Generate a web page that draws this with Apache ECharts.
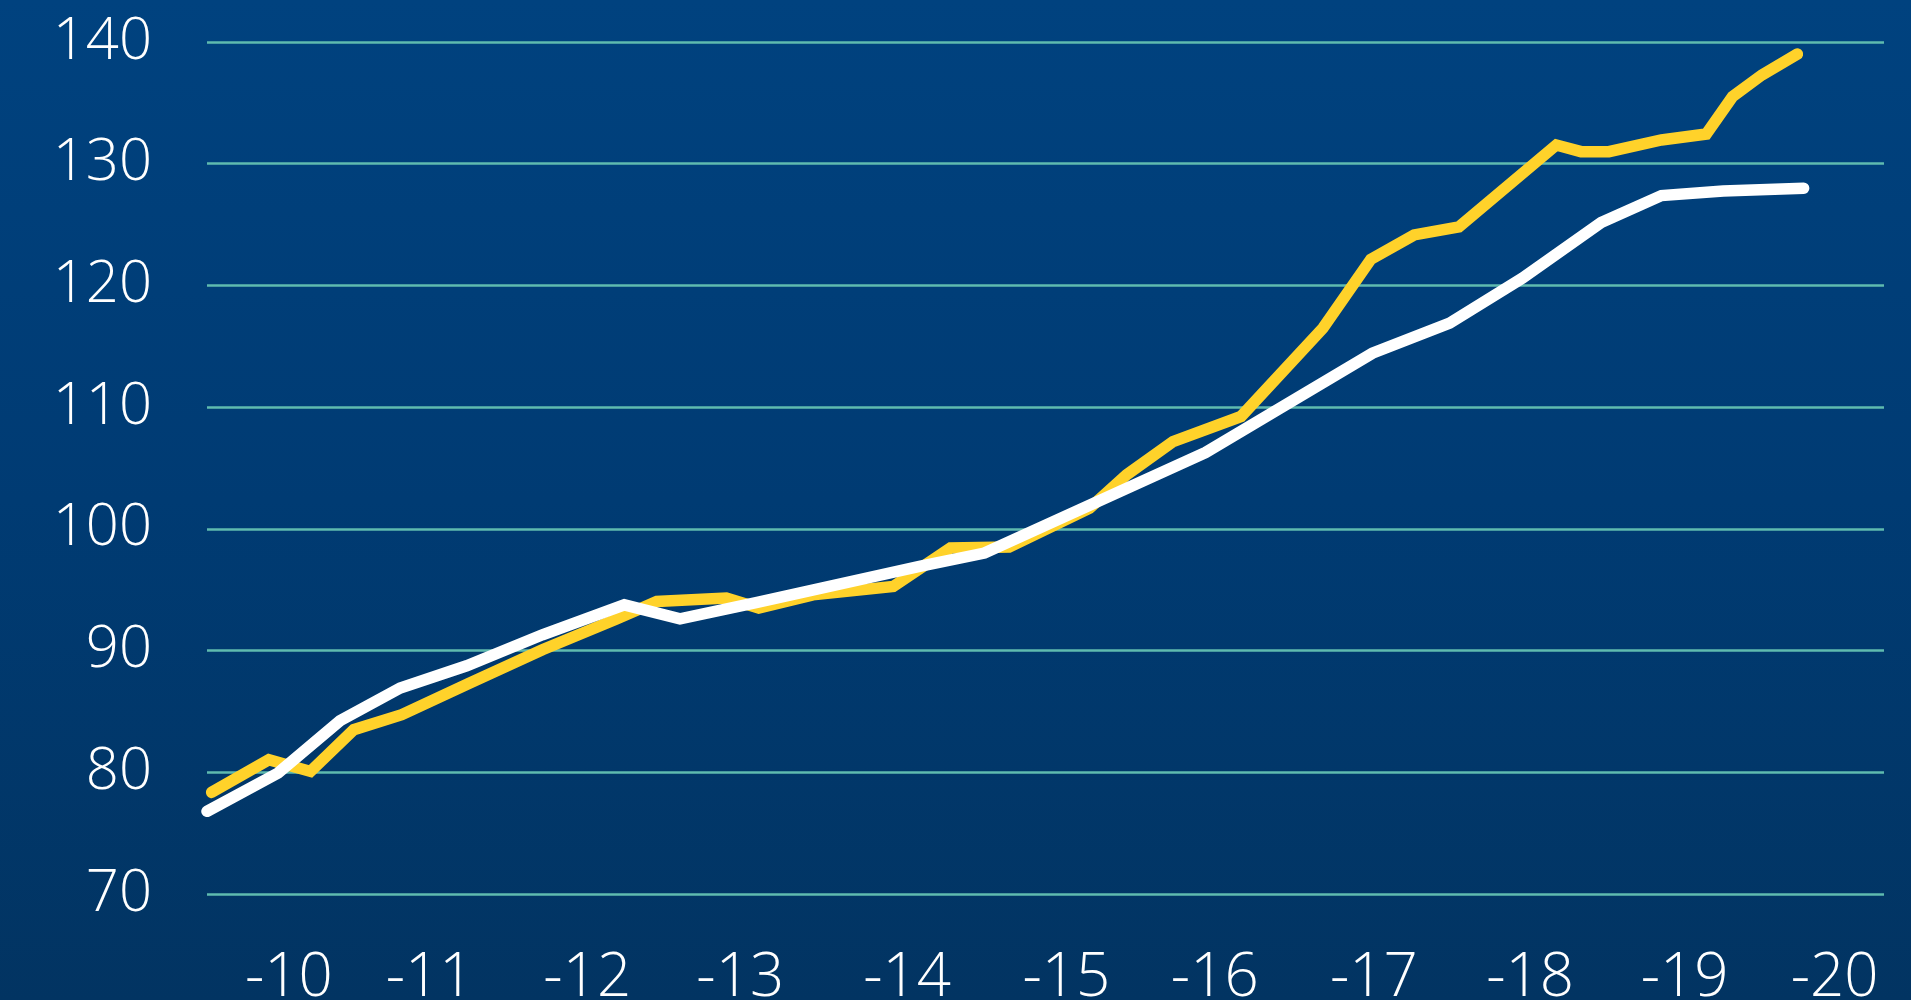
<!DOCTYPE html>
<html>
<head>
<meta charset="utf-8">
<script src="https://cdn.jsdelivr.net/npm/echarts@6/dist/echarts.min.js"></script>
<style>
html,body{margin:0;padding:0;width:1911px;height:1000px;overflow:hidden;background:#003a72;}
#chart{width:1911px;height:1000px;}
</style>
</head>
<body>
<div id="chart"></div>
<script>
// x values are decimal years
const yellowX = [2009.50, 2009.87, 2010.14, 2010.42, 2010.73, 2011.16, 2011.64, 2012.12, 2012.38, 2012.83, 2013.04, 2013.39, 2013.91, 2014.28, 2014.66, 2015.18, 2015.42, 2015.72, 2016.16, 2016.69, 2017.00, 2017.28, 2017.57, 2018.20, 2018.36, 2018.54, 2018.88, 2019.17, 2019.34, 2019.53, 2019.76];
const yellowY = [78.35, 81.03, 80.07, 83.50, 84.73, 87.27, 90.07, 92.59, 94.03, 94.31, 93.49, 94.58, 95.26, 98.42, 98.50, 101.70, 104.44, 107.17, 109.23, 116.49, 122.15, 124.15, 124.81, 131.54, 130.99, 130.99, 131.95, 132.44, 135.51, 137.29, 139.01];
const whiteX = [2009.47, 2009.93, 2010.33, 2010.72, 2011.15, 2011.64, 2012.17, 2012.53, 2013.03, 2014.08, 2014.50, 2015.93, 2017.01, 2017.51, 2017.98, 2018.49, 2018.88, 2019.28, 2019.80];
const whiteY = [76.79, 79.94, 84.23, 86.92, 88.75, 91.30, 93.76, 92.61, 93.95, 96.91, 98.01, 106.27, 114.43, 116.90, 120.59, 125.16, 127.38, 127.76, 127.98];
const xTickValues = [2010.00, 2010.91, 2011.93, 2012.92, 2014.00, 2015.03, 2015.99, 2017.02, 2018.03, 2019.03, 2020.00];
const xTickLabels = ['-10', '-11', '-12', '-13', '-14', '-15', '-16', '-17', '-18', '-19', '-20'];
const yMin = 70, yMax = 140, yStep = 10;

const chart = echarts.init(document.getElementById('chart'), null, {renderer: 'canvas'});
const pair = (xs, ys) => xs.map((x, i) => [x, ys[i]]);
const font = '"Open Sans", "Noto Sans", sans-serif';

chart.setOption({
  animation: false,
  backgroundColor: {
    type: 'linear', x: 0, y: 0, x2: 0, y2: 1,
    colorStops: [
      {offset: 0, color: '#00427f'},
      {offset: 0.5, color: '#003b73'},
      {offset: 1, color: '#023462'}
    ]
  },
  grid: {left: 207, right: 27, top: 42, bottom: 106, containLabel: false, outerBoundsMode: 'none'},
  xAxis: {
    type: 'value',
    min: 2009.47,
    max: 2020.32,
    axisLine: {show: false},
    axisTick: {show: false},
    splitLine: {show: false},
    axisLabel: {
      customValues: xTickValues,
      margin: 55,
      color: '#ffffff',
      fontFamily: font,
      fontWeight: 300,
      fontSize: 60,
      formatter: function (v) {
        let best = 0, d = 1e9;
        xTickValues.forEach((t, i) => { if (Math.abs(t - v) < d) { d = Math.abs(t - v); best = i; } });
        return best >= 7 ? '{h|' + xTickLabels[best] + '}' : '{n|' + xTickLabels[best] + '}';
      },
      rich: {
        n: {color: '#ffffff', fontFamily: font, fontWeight: 300, fontSize: 60, padding: [0, 0, 0, 0]},
        h: {color: '#ffffff', fontFamily: font, fontWeight: 300, fontSize: 60, padding: [0, 0, 10, 0]}
      }
    }
  },
  yAxis: {
    type: 'value',
    min: yMin,
    max: yMax,
    interval: yStep,
    axisLine: {show: false},
    axisTick: {show: false},
    axisLabel: {
      margin: 55,
      color: '#ffffff',
      fontFamily: font,
      fontWeight: 300,
      fontSize: 58
    },
    splitLine: {show: true, lineStyle: {color: '#5fbbaf', width: 2.7}}
  },
  series: [
    {
      type: 'line',
      data: pair(yellowX, yellowY),
      symbol: 'none',
      lineStyle: {color: '#ffd22a', width: 11.5, cap: 'round', join: 'miter'}
    },
    {
      type: 'line',
      data: pair(whiteX, whiteY),
      symbol: 'none',
      lineStyle: {color: '#ffffff', width: 11.5, cap: 'round', join: 'miter'}
    }
  ]
});
</script>
</body>
</html>
